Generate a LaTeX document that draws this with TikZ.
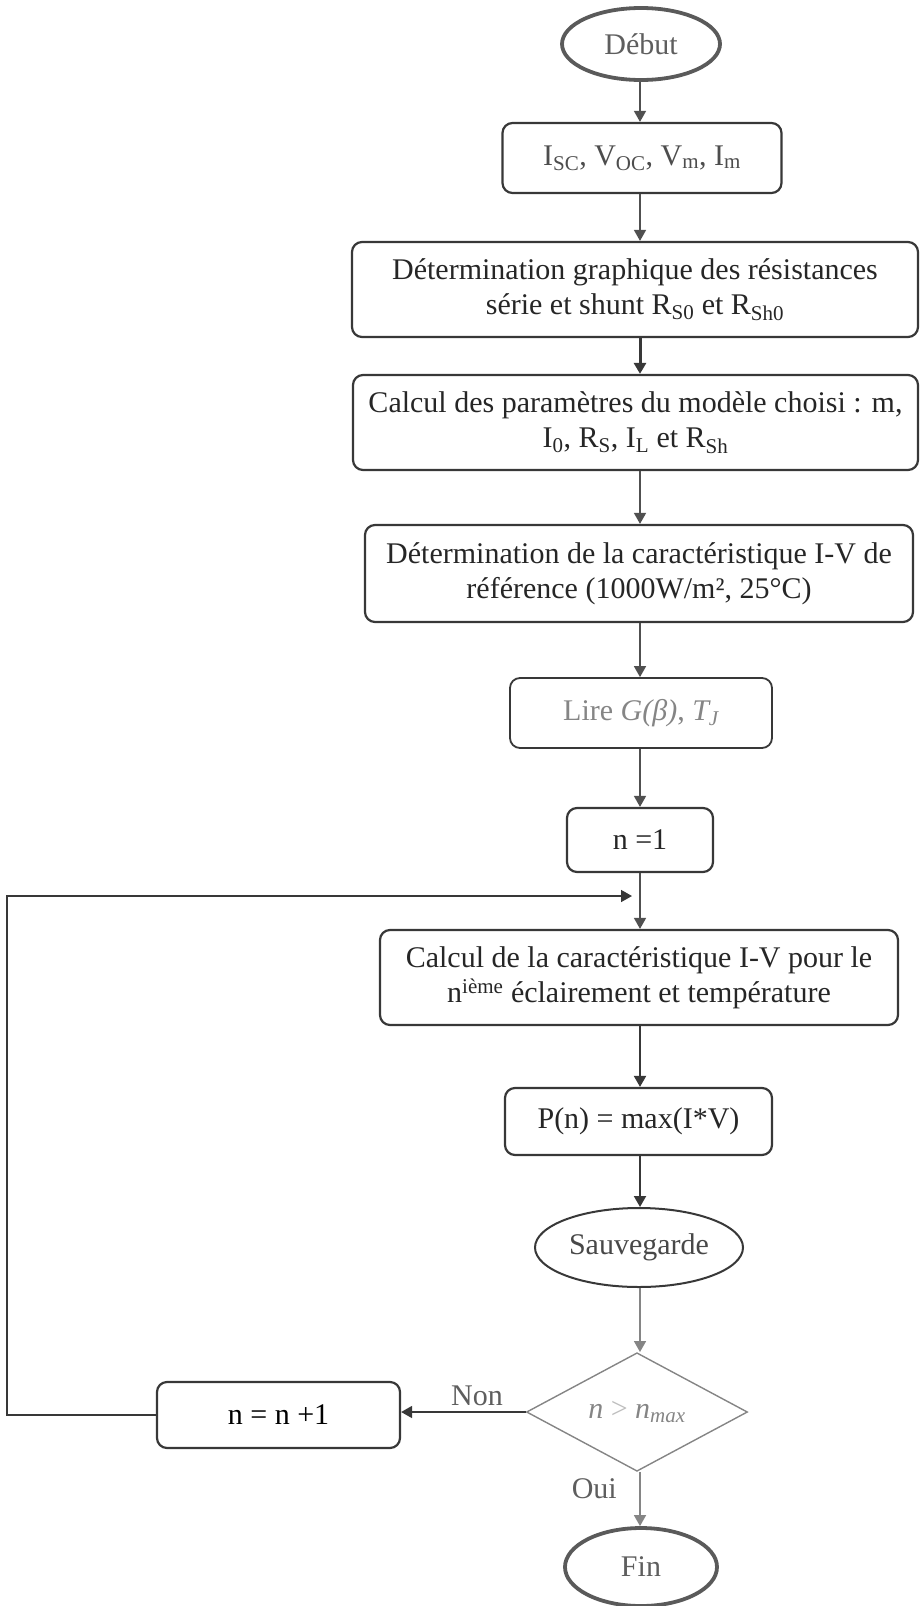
\documentclass[tikz,border=0pt]{standalone}
\usepackage{fontspec}
\setmainfont{Liberation Serif}
\usetikzlibrary{shapes.geometric,arrows.meta}
\definecolor{ink}{HTML}{262626}
\definecolor{edge}{HTML}{383838}
\definecolor{wire}{HTML}{505050}
\definecolor{soft}{HTML}{5E5E5E}
\definecolor{pale}{HTML}{858585}
\definecolor{faint}{HTML}{BDBDBD}
\definecolor{termc}{HTML}{5A5A5A}
\begin{document}
\begin{tikzpicture}[x=1pt,y=-1pt,
  every node/.style={font=\fontsize{30}{35}\selectfont, text=ink, inner sep=0pt},
  stepbox/.style={draw=edge, line width=2.2pt, rounded corners=10pt, align=center},
  term/.style={ellipse, draw=termc, line width=3.8pt},
  wire/.style={draw=wire, line width=1.6pt, -{Triangle[length=11pt,width=12pt]}},
  heavywire/.style={wire, draw=edge, line width=3pt},
  lbl/.style={text=soft, anchor=base east}]
\useasboundingbox (0,0) rectangle (922,1606);

% main chain of steps
\node[term, minimum width=158pt, minimum height=72pt, text=soft] (debut) at (641,44) {Début};
\node[stepbox, minimum width=279pt, minimum height=70pt, text=soft!70!ink] (isc) at (642,158)
  {I\textsubscript{SC}, V\textsubscript{OC}, V\textsubscript{m}, I\textsubscript{m}};
\node[stepbox, minimum width=566pt, minimum height=95pt] (graph) at (635,289.5)
  {Détermination graphique des résistances\\série et shunt R\textsubscript{S0} et R\textsubscript{Sh0}};
\node[stepbox, minimum width=565pt, minimum height=95pt] (param) at (635.5,422.5)
  {Calcul des paramètres du modèle choisi : m,\\I\textsubscript{0}, R\textsubscript{S}, I\textsubscript{L} et R\textsubscript{Sh}};
\node[stepbox, minimum width=548pt, minimum height=97pt] (ref) at (639,573.5)
  {Détermination de la caractéristique I-V de\\référence (1000W/m², 25°C)};
\node[stepbox, line width=1.8pt, minimum width=262pt, minimum height=70pt, text=pale] (lire) at (641,713)
  {Lire \textit{G(β)}, \textit{T\textsubscript{J}}};
\node[stepbox, minimum width=146pt, minimum height=64pt] (init) at (640,840) {n =1};
\node[stepbox, minimum width=518pt, minimum height=95pt] (iv) at (639,977.5)
  {Calcul de la caractéristique I-V pour le\\n\textsuperscript{ième} éclairement et température};
\node[stepbox, minimum width=267pt, minimum height=67pt] (pmax) at (638.5,1121.5) {P(n) = max(I*V)};
\node[ellipse, draw=edge, line width=2pt, minimum width=208pt, minimum height=79pt, text=soft!60!ink] (save) at (639,1247.5) {Sauvegarde};
\node[diamond, draw=pale, line width=1.4pt, minimum width=221pt, minimum height=112pt, text=pale] (test) at (637,1412)
  {\textit{n} {\color{faint}>} \textit{n\textsubscript{max}}};
\node[stepbox, minimum width=243pt, minimum height=66pt, text=black] (incr) at (278.5,1415) {n = n +1};
\node[term, minimum width=152pt, minimum height=78pt, text=soft] (fin) at (641,1567) {Fin};

% branch labels
\node[lbl] (non) at (503,1405) {Non};
\node[lbl] (oui) at (617,1498) {Oui};

% vertical flow
\coordinate (axis) at (640,0);
\draw[wire] (axis |- debut.south) -- (axis |- isc.north);
\draw[wire] (axis |- isc.south) -- (axis |- graph.north);
\draw[heavywire] (axis |- graph.south) -- (axis |- param.north);
\draw[wire] (axis |- param.south) -- (axis |- ref.north);
\draw[wire] (axis |- ref.south) -- (axis |- lire.north);
\draw[wire] (axis |- lire.south) -- (axis |- init.north);
\draw[wire] (axis |- init.south) -- (axis |- iv.north);
\draw[wire, draw=edge, line width=2pt] (axis |- iv.south) -- (axis |- pmax.north);
\draw[wire, draw=edge, line width=2pt] (axis |- pmax.south) -- (axis |- save.north);
\draw[wire, draw=pale] (axis |- save.south) -- (axis |- test.north);
\draw[wire, draw=pale] (axis |- test.south) -- (axis |- fin.north);

% loop back for the next case
\draw[wire, draw=edge] (test.west) -- (test.west -| incr.east);
\coordinate (cornerlow) at (7,1415);
\coordinate (cornerhigh) at (7,896);
\coordinate (join) at (640,896);
\draw[wire, draw=edge, shorten >=8pt] (incr.west) -- (cornerlow) -- (cornerhigh) -- (join);
\end{tikzpicture}
\end{document}
